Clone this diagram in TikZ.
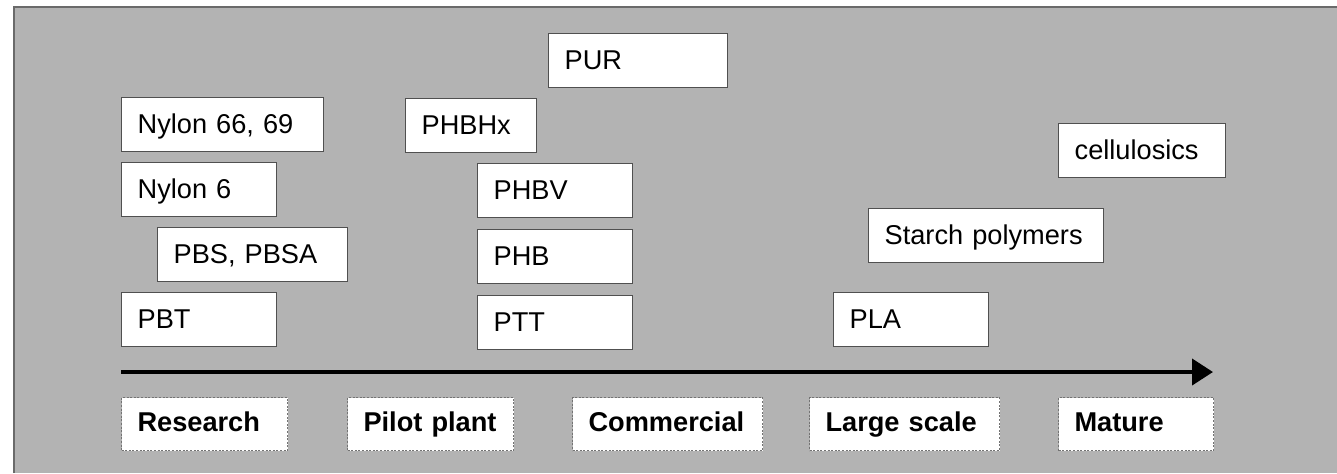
\documentclass[tikz,border=0pt]{standalone}
\usepackage{fontspec}
\setmainfont{Liberation Sans}
\usetikzlibrary{arrows.meta, positioning}
\definecolor{panelgray}{HTML}{B3B3B3}
\definecolor{edgegray}{HTML}{505050}
\tikzset{
  polybox/.style={draw=edgegray, line width=0.65pt, fill=white, anchor=north west,
    inner xsep=8pt, inner ysep=0pt, minimum height=27pt, align=left,
    text height=0.9em, text depth=0.04em, text width=#1,
    font=\fontsize{13.6}{16}\selectfont},
  stagebox/.style={polybox=#1, draw=gray!90!black, line width=0.5pt,
    dash pattern=on 1pt off 0.8pt, minimum height=26.5pt,
    text height=0.8em, text depth=0.08em,
    font=\fontsize{13.6}{16}\selectfont\bfseries}
}
\begin{document}
\begin{tikzpicture}[x=0.5pt, y=-0.5pt]
\useasboundingbox (0,0) rectangle (1337,473);
\fill[panelgray] (14,7) rectangle (1337,473);
\draw[edgegray!85, line width=1.3pt] (14,473) -- (14,7) -- (1337,7);

\node[polybox=73.5pt] (pur) at (548,33) {PUR};
\node[polybox=85pt] (nylon66) at (121,97) {Nylon 66, 69};
\node[polybox=49.5pt] (phbhx) at (405,98) {PHBHx};
\node[polybox=67.5pt] (cellulosics) at (1058,123) {cellulosics};
\node[polybox=61.5pt] (nylon6) at (121,162) {Nylon 6};
\node[polybox=61.5pt] (phbv) at (477,163) {PHBV};
\node[polybox=101.5pt] (starch) at (868,208) {Starch polymers};
\node[polybox=79pt] (pbs) at (157,227) {PBS, PBSA};
\node[polybox=61.5pt] (phb) at (477,229) {PHB};
\node[polybox=61.5pt] (pbt) at (121,292) {PBT};
\node[polybox=61.5pt] (ptt) at (477,295) {PTT};
\node[polybox=61.5pt] (pla) at (833,292) {PLA};

\coordinate (arrowstart) at (121,372);
\coordinate (arrowend) at (1213,372);
\draw[line width=2pt, -{Triangle[length=10.5pt, width=13pt]}] (arrowstart) -- (arrowend);

\node[stagebox=67pt] (research) at (121,397) {Research};
\node[stagebox=67pt] (pilot) at (347,397) {Pilot plant};
\node[stagebox=79pt] (commercial) at (572,397) {Commercial};
\node[stagebox=79pt] (large) at (809,397) {Large scale};
\node[stagebox=61.5pt] (mature) at (1058,397) {Mature};
\end{tikzpicture}
\end{document}
